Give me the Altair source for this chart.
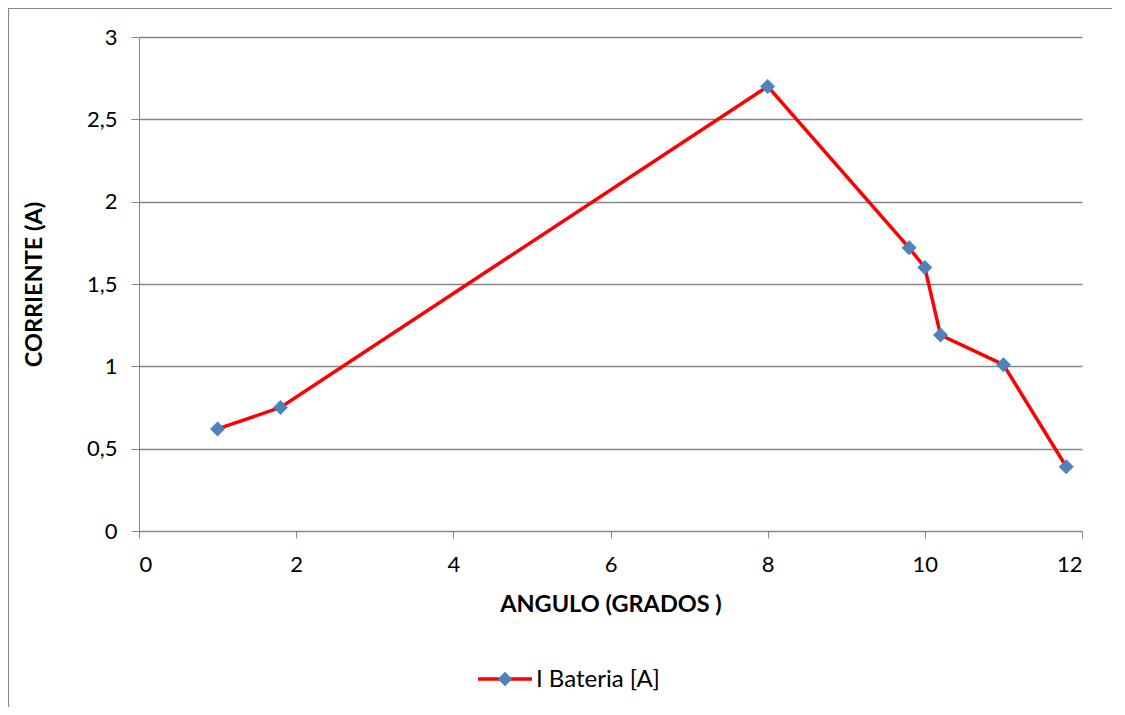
import altair as alt
import pandas as pd

angulo = [1.0, 1.8, 8.0, 9.8, 10.0, 10.2, 11.0, 11.8]
corriente = [0.62, 0.75, 2.70, 1.72, 1.60, 1.19, 1.01, 0.39]
series_name = "I Bateria [A]"
x_ticks = [0, 2, 4, 6, 8, 10, 12]
y_ticks = [0, 0.5, 1, 1.5, 2, 2.5, 3]

df = pd.DataFrame({"angulo": angulo, "corriente": corriente})
legend_df = pd.DataFrame({"label": [series_name]})

FONT = "Lato"
GRAY = "#878787"
W, H = 943, 494

x_enc = alt.X("angulo:Q", scale=alt.Scale(domain=[0, 12], nice=False, zero=False),
              axis=alt.Axis(values=x_ticks, format="d", title="ANGULO (GRADOS )", grid=False,
                            labelFontSize=22, labelPadding=16, tickSize=7,
                            titleFontSize=23.5, titleFontWeight="bold", titlePadding=17,
                            domainColor=GRAY, tickColor=GRAY, labelColor="#000000",
                            titleColor="#000000", labelFont=FONT, titleFont=FONT))
y_enc = alt.Y("corriente:Q", scale=alt.Scale(domain=[0, 3], nice=False),
              axis=alt.Axis(values=y_ticks, title="CORRIENTE (A)", grid=True,
                            gridColor=GRAY, gridWidth=1.5,
                            labelExpr="replace(toString(datum.value), '.', ',')",
                            labelFontSize=22, labelPadding=14, tickSize=8,
                            titleFontSize=23.5, titleFontWeight="bold", titlePadding=40,
                            domainColor=GRAY, tickColor=GRAY, labelColor="#000000",
                            titleColor="#000000", labelFont=FONT, titleFont=FONT))

line = alt.Chart(df).mark_line(color="#FF0000", strokeWidth=3.5).encode(x=x_enc, y=y_enc)
points = alt.Chart(df).mark_point(shape="diamond", filled=True, fill="#4F81BD",
                                  opacity=1, size=210, stroke="#4F81BD", strokeWidth=0.5).encode(
    x="angulo:Q", y="corriente:Q")

frame = alt.Chart(legend_df).mark_rect(fill=None, stroke=GRAY, strokeWidth=1.2).encode(
    x=alt.value(-130.5), x2=alt.value(981.5), y=alt.value(-28.5), y2=alt.value(720))

leg_rule = alt.Chart(legend_df).mark_rule(color="#FF0000", strokeWidth=3.5).encode(
    x=alt.value(339), x2=alt.value(393), y=alt.value(642))
leg_pt = alt.Chart(legend_df).mark_point(shape="diamond", filled=True, fill="#4F81BD",
                                         opacity=1, size=210).encode(
    x=alt.value(366), y=alt.value(642))
leg_txt = alt.Chart(legend_df).mark_text(align="left", baseline="middle", fontSize=24,
                                         font=FONT, color="#000000").encode(
    x=alt.value(397), y=alt.value(643), text="label:N")

chart = alt.layer(frame, line, points, leg_rule, leg_pt, leg_txt).properties(
    width=W, height=H,
    autosize=alt.AutoSizeParams(type="none"),
    padding={"left": 131, "top": 29, "right": 30, "bottom": 176},
    background="white",
).configure_view(stroke=None)

chart.save("out.html", embed_options={"renderer": "svg", "actions": False})
